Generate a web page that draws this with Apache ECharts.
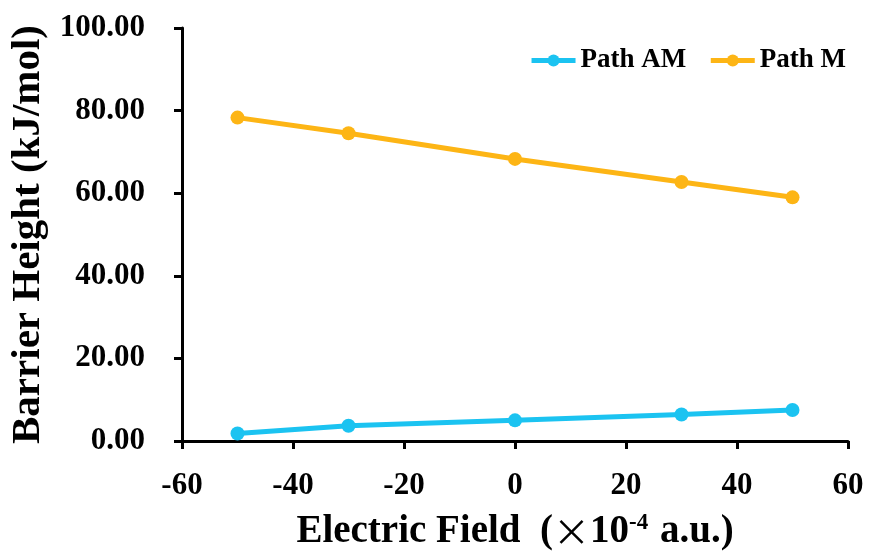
<!DOCTYPE html>
<html>
<head>
<meta charset="utf-8">
<script src="https://cdn.jsdelivr.net/npm/echarts@6/dist/echarts.min.js"></script>
<style>
html, body { margin: 0; padding: 0; background: #fff; }
#chart { width: 869px; height: 552px; }
</style>
</head>
<body>
<div id="chart"></div>
<script>
const fieldValues = [-50, -30, 0, 30, 50]
const pathAM = [1.8, 3.7, 5.0, 6.4, 7.5]
const pathM = [78.3, 74.5, 68.3, 62.7, 59.0]
const seriesNames = ['Path AM', 'Path M']

const font = 'Liberation Serif'
const axisLine = { show: true, onZero: false, lineStyle: { color: '#000', width: 3 } }
const axisTick = { show: true, inside: false, length: 8, lineStyle: { color: '#000', width: 3 } }
const axisLabel = { fontFamily: font, fontWeight: 'bold', fontSize: 31, color: '#000' }

const chart = echarts.init(document.getElementById('chart'))
chart.setOption({
  backgroundColor: '#fff',
  color: ['#1BC3F1', '#FDB515'],
  animation: false,
  grid: { left: 182, right: 21, top: 28, bottom: 111, outerBoundsMode: 'none' },
  legend: {
    top: 42,
    right: 18,
    itemWidth: 44,
    itemHeight: 15,
    itemGap: 22,
    data: seriesNames,
    lineStyle: { width: 5 },
    textStyle: { fontFamily: font, fontWeight: 'bold', fontSize: 27, color: '#000' }
  },
  xAxis: {
    type: 'value',
    min: -60,
    max: 60,
    interval: 20,
    splitLine: { show: false },
    axisLine: axisLine,
    axisTick: axisTick,
    axisLabel: Object.assign({ margin: 29 }, axisLabel),
    name: '{t|Electric Field  (}{x|\u00D7}{t|10}{s|-4}{t| a.u.)}',
    nameLocation: 'middle',
    nameGap: 71,
    nameTextStyle: {
      rich: {
        t: { fontFamily: font, fontWeight: 'bold', fontSize: 39, color: '#000' },
        x: { fontFamily: 'Noto Sans CJK SC', fontWeight: 'normal', fontSize: 37, color: '#000' },
        s: { fontFamily: font, fontWeight: 'bold', fontSize: 23, color: '#000', verticalAlign: 'top', padding: [0, 2, 16, 0] }
      }
    }
  },
  yAxis: {
    type: 'value',
    min: 0,
    max: 100,
    interval: 20,
    splitLine: { show: false },
    axisLine: axisLine,
    axisTick: axisTick,
    axisLabel: Object.assign({ margin: 37, formatter: v => v.toFixed(2) }, axisLabel),
    name: 'Barrier Height (kJ/mol)',
    nameLocation: 'middle',
    nameGap: 133,
    nameTextStyle: { fontFamily: font, fontWeight: 'bold', fontSize: 41, color: '#000' }
  },
  series: [
    {
      name: seriesNames[0],
      type: 'line',
      data: fieldValues.map((x, i) => [x, pathAM[i]]),
      symbol: 'circle',
      symbolSize: 14,
      lineStyle: { width: 5 }
    },
    {
      name: seriesNames[1],
      type: 'line',
      data: fieldValues.map((x, i) => [x, pathM[i]]),
      symbol: 'circle',
      symbolSize: 14,
      lineStyle: { width: 5 }
    }
  ]
})
</script>
</body>
</html>
